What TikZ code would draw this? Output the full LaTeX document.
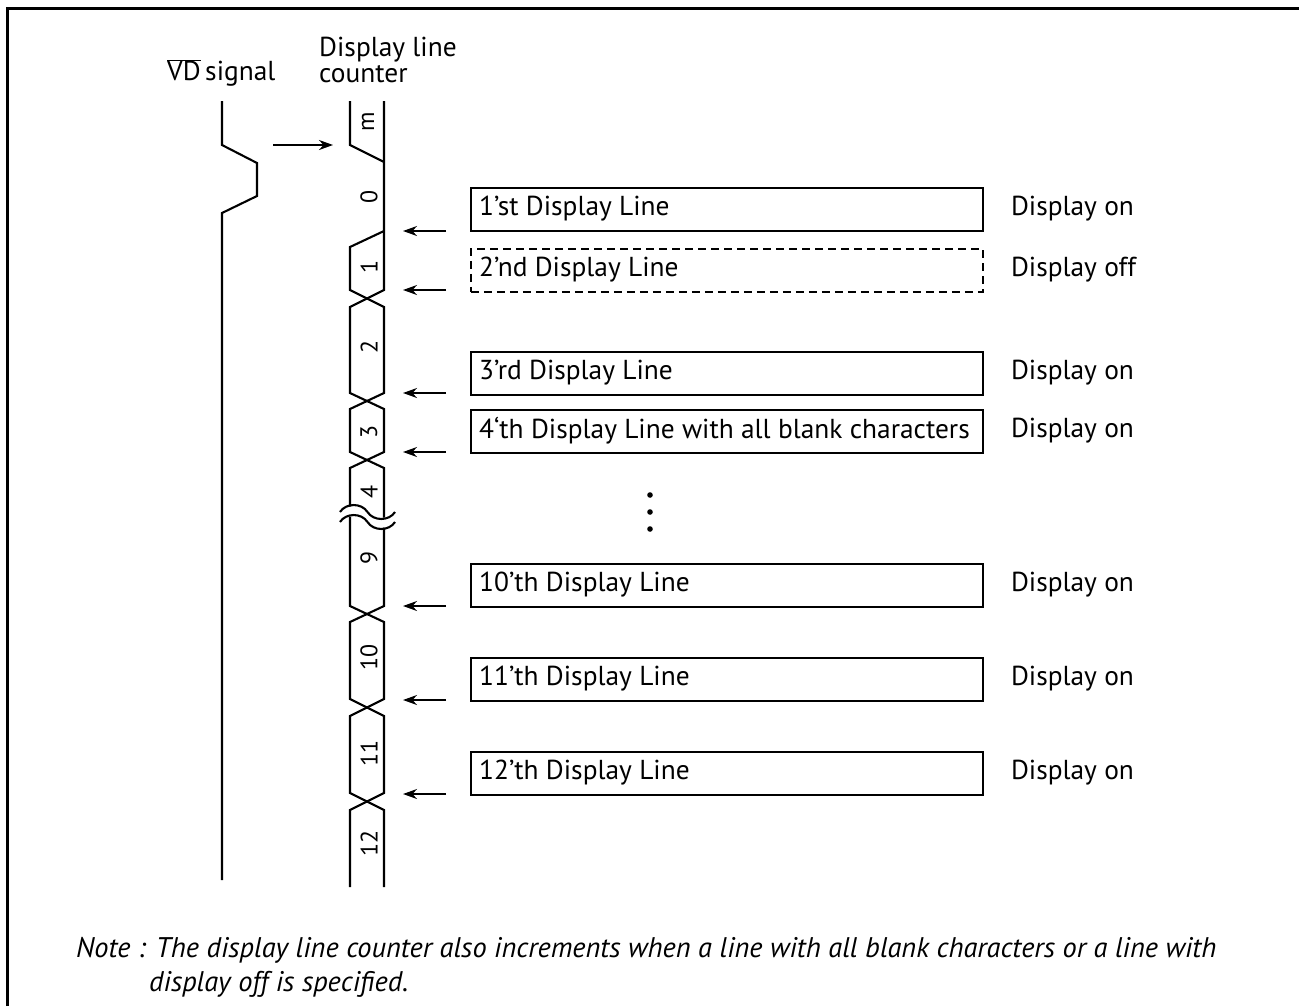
\documentclass[tikz,border=0pt]{standalone}
\usepackage{fontspec}
\setmainfont{PT Sans}
\usetikzlibrary{arrows.meta}
\begin{document}
\begin{tikzpicture}[x=1bp,y=-1bp,
  sig/.style={line width=2.1bp},
  dbox/.style={draw,line width=1.8bp,minimum width=512bp,minimum height=43bp,anchor=north west,inner sep=0pt},
  btext/.style={anchor=west,font=\fontsize{27.5}{30}\selectfont,inner sep=0pt},
  num/.style={rotate=90,font=\fontsize{24}{26}\selectfont,inner sep=0pt},
  arr/.style={-{Stealth[length=14bp,width=10bp]},line width=1.8bp},
  lbl/.style={font=\fontsize{27.5}{26}\selectfont,inner sep=0pt}]
\useasboundingbox (0,0) rectangle (1299,1006);
% frame
\draw[line width=3bp] (7,1006) -- (7,8) -- (1299,8);
% headers
\node[lbl,anchor=west] (vdh) at (167,73) {$\overline{\mbox{VD}}$\,signal};
\node[lbl,anchor=west,align=left] (dlh) at (319,60) {Display line\\counter};
% VD signal
\draw[sig] (222,101) -- (222,145) -- (257,163) -- (257,196) -- (222,213) -- (222,880);
\coordinate (vdA) at (273,145);
\coordinate (vdB) at (333,145);
\draw[arr] (vdA) -- (vdB);
% counter
\def\L{350}\def\R{384}
\draw[sig] (\L,101) -- (\L,145) -- (\R,162);
\draw[sig] (\R,101) -- (\R,290) -- (\L,307) -- (\L,393) -- (\R,409) -- (\R,452) -- (\L,468) -- (\L,506.6);
\draw[sig] (\R,231) -- (\L,247) -- (\L,290) -- (\R,307) -- (\R,393) -- (\L,409) -- (\L,452) -- (\R,468) -- (\R,517.7);
\draw[sig] (\L,516.6) -- (\L,606) -- (\R,622) -- (\R,699) -- (\L,716) -- (\L,793) -- (\R,810) -- (\R,887);
\draw[sig] (\R,527.7) -- (\R,606) -- (\L,622) -- (\L,699) -- (\R,716) -- (\R,793) -- (\L,810) -- (\L,887);
% break waves
\draw[sig] (340,512) .. controls (346,502.7) and (361.5,502.7) .. (367.5,512) .. controls (373.5,521.3) and (389,521.3) .. (395,512);
\draw[sig] (340,522) .. controls (346,512.7) and (361.5,512.7) .. (367.5,522) .. controls (373.5,531.3) and (389,531.3) .. (395,522);
% numbers
\node[num] (nm) at (368,122) {m};
\node[num] (n0) at (369,197) {0};
\node[num] (n1) at (369,267) {1};
\node[num] (n2) at (369,347) {2};
\node[num] (n3) at (369,432) {3};
\node[num] (n4) at (369,492) {4};
\node[num] (n9) at (369,558) {9};
\node[num] (n10) at (369,657) {10};
\node[num] (n11) at (369,753) {11};
\node[num] (n12) at (369,843) {12};
% boxes
\node[dbox] (b1) at (470,187) {};
\node[dbox,dashed,dash pattern=on 8bp off 5bp] (b2) at (470,248) {};
\node[dbox] (b3) at (470,351) {};
\node[dbox] (b4) at (470,409) {};
\node[dbox] (b10) at (470,563) {};
\node[dbox] (b11) at (470,657) {};
\node[dbox] (b12) at (470,751) {};
\node[btext] (t1) at ([xshift=9bp,yshift=1bp]b1.west) {1’st Display Line};
\node[btext] (t2) at ([xshift=9bp,yshift=1bp]b2.west) {2’nd Display Line};
\node[btext] (t3) at ([xshift=9bp,yshift=1bp]b3.west) {3’rd Display Line};
\node[btext] (t4) at ([xshift=9bp,yshift=1bp]b4.west) {4‘th Display Line with all blank characters};
\node[btext] (t10) at ([xshift=9bp,yshift=1bp]b10.west) {10’th Display Line};
\node[btext] (t11) at ([xshift=9bp,yshift=1bp]b11.west) {11’th Display Line};
\node[btext] (t12) at ([xshift=9bp,yshift=1bp]b12.west) {12’th Display Line};
\foreach \b/\s in {b1/on,b2/off,b3/on,b4/on,b10/on,b11/on,b12/on}{
  \node[btext] (s\b) at ([xshift=27bp,yshift=1bp]\b.east) {Display \s};
}
% arrows
\foreach \y/\n in {231/1,290/2,393/3,452/4,606/10,700/11,794/12}{
  \coordinate (aS\n) at (446,\y);
  \coordinate (aE\n) at (403,\y);
  \draw[arr] (aS\n) -- (aE\n);
}
% dots
\foreach \y/\n in {495/1,512/2,529/3}{\fill (650,\y) circle (2.8bp) coordinate (dot\n);}
% note
\node[lbl,anchor=west,font=\fontsize{28.5}{30}\selectfont\itshape] (note1) at (76,950) {Note : The display line counter also increments when a line with all blank characters or a line with};
\node[lbl,anchor=west,font=\fontsize{28.5}{30}\selectfont\itshape] (note2) at (149,984) {display off is specified.};
\end{tikzpicture}
\end{document}
